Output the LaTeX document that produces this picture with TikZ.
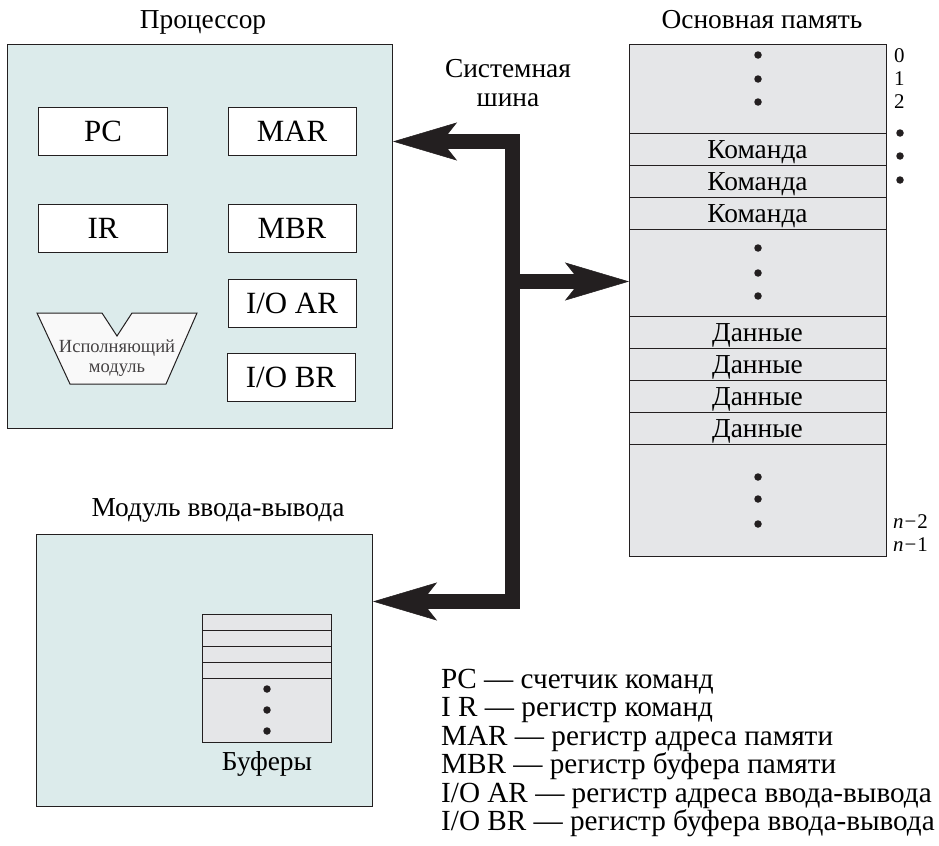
\documentclass[tikz,border=0pt]{standalone}
\usepackage{fontspec}
\setmainfont{Liberation Serif}
\usetikzlibrary{arrows.meta}
\definecolor{procfill}{RGB}{220,235,235}
\definecolor{memfill}{RGB}{229,230,232}
\definecolor{execfill}{RGB}{249,249,249}
\definecolor{ink}{RGB}{35,31,32}
\begin{document}
\begin{tikzpicture}[x=1bp,y=-1bp,
  panel/.style={draw=ink, line width=1bp, fill=procfill, anchor=north west, inner sep=0},
  reg/.style={draw=ink, line width=1bp, fill=white, minimum width=128bp, minimum height=48bp, inner sep=0, font=\fontsize{31}{33}\selectfont},
  title/.style={font=\fontsize{27.5}{30}\selectfont, inner sep=0, anchor=base},
  cell/.style={font=\fontsize{27.5}{30}\selectfont, inner sep=0, anchor=base},
  dot/.style={circle, fill=ink, inner sep=0, minimum size=7.5bp},
  lbl/.style={font=\fontsize{21}{23}\selectfont, inner sep=0, anchor=west},
  legend/.style={font=\fontsize{29.3}{30}\selectfont, inner sep=0, anchor=base west},
  bus/.style={draw=ink, line width=15bp, line join=miter},
  rule/.style={draw=ink, line width=1bp},
]
\useasboundingbox (0,0) rectangle (939,846);

% titles
\node[title] (tproc) at (203,28) {Процессор};
\node[title] (tmem) at (762,28) {Основная память};
\node[title] (tbus1) at (508,77) {Системная};
\node[title] (tbus2) at (508,106) {шина};
\node[title] (tio) at (218,516) {Модуль ввода-вывода};

% processor
\node[panel, minimum width=385bp, minimum height=384bp] (proc) at (7,44) {};
\node[reg] (pc) at (103,131) {PC};
\node[reg] (mar) at (292,131) {MAR};
\node[reg] (ir) at (103,228.5) {IR};
\node[reg] (mbr) at (292,228.5) {MBR};
\node[reg] (ioar) at (292,303) {I/O AR};
\node[reg] (iobr) at (291,377) {I/O BR};
\draw[rule, fill=execfill] (37,313) -- (102,313) -- (117,336) -- (132,313) -- (197,313) -- (166,384) -- (70,384) -- cycle;
\node[font=\fontsize{18.6}{20}\selectfont, text=ink!85, align=center, inner sep=0] (exec) at (117,358) {Исполняющий\\модуль};

% memory
\node[panel, fill=memfill, minimum width=257bp, minimum height=512bp] (mem) at (629,44) {};
\foreach \y in {133,165,197,229,316,348,380,412,444}
  \draw[rule] (629,\y) -- (886,\y);
\foreach \y [count=\i] in {133,165,197}
  \node[cell] (cmd\i) at (757.5,\y+25) {Команда};
\foreach \y [count=\i] in {316,348,380,412}
  \node[cell] (dat\i) at (757.5,\y+25) {Данные};
\foreach \y [count=\i] in {55,79,102,248,273,296,477,499,524}
  \node[dot] (md\i) at (758,\y) {};
\node[lbl] (a0) at (894,56) {0};
\node[lbl] (a1) at (894,79) {1};
\node[lbl] (a2) at (894,102) {2};
\foreach \y [count=\i] in {133,156,180}
  \node[dot] (rd\i) at (900,\y) {};
\node[lbl] (an2) at (893,522) {\textit{n}\kern1bp−\kern1bp2};
\node[lbl] (an1) at (893,545) {\textit{n}\kern1bp−\kern1bp1};

% I/O module
\node[panel, minimum width=336bp, minimum height=272bp] (io) at (36,534) {};
\node[panel, fill=memfill, minimum width=129bp, minimum height=128bp] (buf) at (202,614) {};
\foreach \y in {630,646,662,678}
  \draw[rule] (202,\y) -- (331,\y);
\foreach \y [count=\i] in {689,710,731}
  \node[dot] (bd\i) at (267,\y) {};
\node[title] (tbuf) at (267,770) {Буферы};

% bus
\coordinate (bt) at (512.5,141.5);
\coordinate (bb) at (512.5,601.5);
\coordinate (bm) at (512.5,281.5);
\draw[bus, {Stealth[length=64bp, width=38bp, inset=15bp, line width=0.5bp]}-{Stealth[length=64bp, width=38bp, inset=15bp, line width=0.5bp]}] (proc.east |- bt) -- (bt) -- (bb) -- (io.east |- bb);
\draw[bus, -{Stealth[length=64bp, width=38bp, inset=15bp, line width=0.5bp]}] (bm) -- (mem.west |- bm);

% legend
\node[legend] (l1) at (441,688) {PC — счетчик команд};
\node[legend] (l2) at (441,716.5) {I R — регистр команд};
\node[legend] (l3) at (441,745) {MAR — регистр адреса памяти};
\node[legend] (l4) at (441,773.5) {MBR — регистр буфера памяти};
\node[legend] (l5) at (441,802) {I/O AR — регистр адреса ввода-вывода};
\node[legend] (l6) at (441,830.5) {I/O BR — регистр буфера ввода-вывода};
\end{tikzpicture}
\end{document}
